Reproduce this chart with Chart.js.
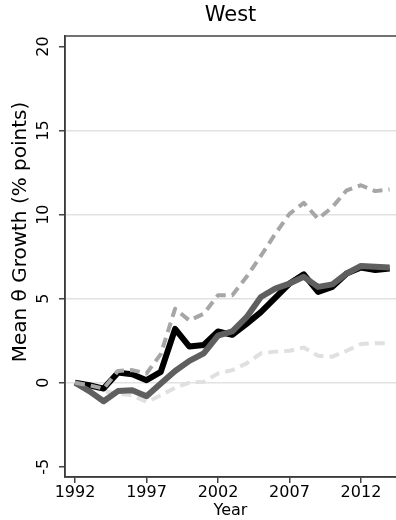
<!DOCTYPE html>
<html>
<head>
<meta charset="utf-8">
<script src="https://cdn.jsdelivr.net/npm/chart.js@4"></script>
<style>
  html, body { margin: 0; padding: 0; background: #fff; }
  #wrap { width: 396px; height: 520px; }
</style>
</head>
<body>
<div id="wrap"><canvas id="lineChart" width="396" height="520"></canvas></div>
<script>
// data
const years = [1992, 1993, 1994, 1995, 1996, 1997, 1998, 1999, 2000, 2001, 2002, 2003,
               2004, 2005, 2006, 2007, 2008, 2009, 2010, 2011, 2012, 2013, 2014];
const blackLine = [0, -0.15, -0.35, 0.6, 0.5, 0.15, 0.65, 3.2, 2.15, 2.25, 3.05, 2.85,
                   3.5, 4.2, 5.05, 5.9, 6.45, 5.4, 5.7, 6.5, 6.85, 6.7, 6.8];
const darkLine = [0, -0.5, -1.1, -0.5, -0.45, -0.8, -0.05, 0.7, 1.3, 1.75, 2.8, 3.05,
                  3.9, 5.1, 5.6, 5.9, 6.3, 5.7, 5.85, 6.5, 6.95, 6.9, 6.85];
const upperDash = [0, -0.15, -0.35, 0.7, 0.75, 0.55, 1.7, 4.4, 3.7, 4.1, 5.2, 5.2,
                   6.3, 7.55, 8.85, 10.05, 10.7, 9.75, 10.45, 11.45, 11.75, 11.4, 11.5];
const lowerDash = [0, -0.2, -0.5, -0.65, -0.75, -1.15, -0.75, -0.3, 0, 0.05, 0.55, 0.75,
                   1.15, 1.75, 1.85, 1.9, 2.1, 1.6, 1.55, 1.9, 2.3, 2.35, 2.35];
const xTicks = [1992, 1997, 2002, 2007, 2012];
const yTicks = [-5, 0, 5, 10, 15, 20];

const pts = arr => arr.map((v, i) => ({ x: years[i], y: v }));

// frame, title, rotated y labels
const extras = {
    id: 'extras',
    beforeDatasetsDraw(chart) {
        const { ctx, chartArea: a } = chart;
        ctx.save();
        ctx.strokeStyle = '#444';
        ctx.lineWidth = 1.5;
        ctx.strokeRect(a.left, a.top, a.right - a.left + 2, a.bottom - a.top);
        ctx.restore();
    },
    afterDraw(chart) {
        const { ctx, chartArea: a } = chart;
        const y = chart.scales.y;
        ctx.save();
        ctx.fillStyle = '#000';
        ctx.font = '21px "DejaVu Sans"';
        ctx.textAlign = 'center';
        ctx.textBaseline = 'middle';
        ctx.fillText('West', (a.left + a.right) / 2, 16);

        ctx.font = '16px "DejaVu Sans"';
        yTicks.forEach(t => {
            ctx.save();
            ctx.translate(44, y.getPixelForValue(t));
            ctx.rotate(-Math.PI / 2);
            ctx.fillText(String(t), 0, 0);
            ctx.restore();
        });

        ctx.font = '20px "DejaVu Sans"';
        ctx.translate(21, 232);
        ctx.rotate(-Math.PI / 2);
        ctx.fillText('Mean \u03b8 Growth (% points)', 0, 0);
        ctx.restore();
    }
};

const data = {
    datasets: [
        { data: pts(upperDash), borderColor: '#a6a6a6', borderWidth: 4, borderDash: [10, 6] },
        { data: pts(darkLine), borderColor: '#5f5f5f', borderWidth: 6 },
        { data: pts(blackLine), borderColor: '#000000', borderWidth: 6 },
        { data: pts(lowerDash), borderColor: '#e0e0e0', borderWidth: 4, borderDash: [10, 6] }
    ]
};

const options = {
    responsive: false,
    animation: false,
    layout: { padding: { top: 36, right: 0, left: 0, bottom: 0 } },
    elements: {
        point: { radius: 0 },
        line: { tension: 0, borderJoinStyle: 'round', borderCapStyle: 'butt', fill: false }
    },
    scales: {
        x: {
            type: 'linear',
            min: 1991.3,
            max: 2014.45,
            afterFit: s => { s.height = 43; },
            afterBuildTicks: s => { s.ticks = xTicks.map(v => ({ value: v })); },
            ticks: {
                color: '#000',
                font: { family: 'DejaVu Sans', size: 16 },
                padding: 0,
                maxRotation: 0,
                callback: v => String(v)
            },
            grid: { drawOnChartArea: false, drawTicks: true, tickLength: 6, color: '#444', lineWidth: 1.5 },
            border: { display: true, color: '#222', width: 1.5 },
            title: {
                display: true,
                text: 'Year',
                color: '#000',
                font: { family: 'DejaVu Sans', size: 16 },
                padding: { top: -4, bottom: 0 }
            }
        },
        y: {
            min: -5.61,
            max: 20.63,
            afterFit: s => { s.width = 65; },
            afterBuildTicks: s => { s.ticks = yTicks.map(v => ({ value: v })); },
            ticks: { display: false },
            grid: {
                drawTicks: true,
                tickLength: 6,
                color: c => (c.tick && (c.tick.value === 20 || c.tick.value === -5)) ? 'rgba(0,0,0,0)' : '#e2e2e2',
                tickColor: '#444',
                lineWidth: 1.5
            },
            border: { display: true, color: '#222', width: 1.5 }
        }
    },
    plugins: {
        legend: { display: false },
        tooltip: { enabled: false },
        title: { display: false }
    }
};

new Chart(document.getElementById('lineChart'), {
    type: 'line',
    data: data,
    options: options,
    plugins: [extras]
});
</script>
</body>
</html>
